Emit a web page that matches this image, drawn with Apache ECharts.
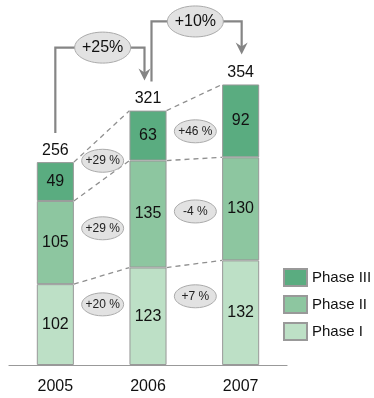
<!DOCTYPE html>
<html>
<head>
<meta charset="utf-8">
<script src="https://cdn.jsdelivr.net/npm/echarts@6/dist/echarts.min.js"></script>
<style>html,body{margin:0;padding:0;background:#fff}#c{width:374px;height:398px}</style>
</head>
<body>
<div id="c"></div>
<script>
const categories = ['2005', '2006', '2007'];
const phase1 = [102, 123, 132];
const phase2 = [105, 135, 130];
const phase3 = [49, 63, 92];
const totals = [256, 321, 354];
const growthPhase1 = ['+20 %', '+7 %'];
const growthPhase2 = ['+29 %', '-4 %'];
const growthPhase3 = ['+29 %', '+46 %'];
const growthTotal = ['+25%', '+10%'];

const FONT = 'Liberation Sans, Arial, sans-serif';
const BAR_RATIO = 0.4;
const colors = { p1: '#bde0c6', p2: '#8dc6a0', p3: '#5aac80' };

function renderItem(params, api) {
  const i = params.dataIndex;
  const n = categories.length;
  const bw = api.size([1, 0])[0] * BAR_RATIO;
  const children = [];
  const top = api.coord([i, totals[i]]);
  children.push({
    type: 'text', z2: 10,
    style: { text: String(totals[i]), x: top[0], y: top[1] - 4, align: 'center', verticalAlign: 'bottom', font: '16px ' + FONT, fill: '#111' }
  });
  if (i < n - 1) {
    const stacks = [phase1, phase2, phase3];
    const labels = [growthPhase1, growthPhase2, growthPhase3];
    const fracs = [0.68, 0.5, 0.45];
    const cA = api.coord([i, 0])[0], cB = api.coord([i + 1, 0])[0];
    const xa = cA + bw / 2, xb = cB - bw / 2;
    const xm = (xa + xb) / 2 + 1;
    let cumA = 0, cumB = 0;
    const ells = [];
    for (let s = 0; s < 3; s++) {
      const botA = cumA, botB = cumB;
      cumA += stacks[s][i]; cumB += stacks[s][i + 1];
      const ya = api.coord([i, cumA])[1], yb = api.coord([i + 1, cumB])[1];
      children.push({
        type: 'line', z2: 1,
        shape: { x1: xa, y1: ya, x2: xb, y2: yb },
        style: { stroke: '#8f8f8f', lineWidth: 1.3, lineDash: [5, 4] }
      });
      const botMean = (botA + botB) / 2, topMean = (cumA + cumB) / 2;
      const yv = botMean + fracs[s] * (topMean - botMean);
      const ey = api.coord([i, yv])[1];
      ells.push({
        type: 'ellipse', z2: 5,
        shape: { cx: xm, cy: ey, rx: 21, ry: 11.5 },
        style: { fill: '#e2e2e2', stroke: '#aaaaaa', lineWidth: 1 }
      });
      ells.push({
        type: 'text', z2: 6,
        style: { text: labels[s][i], x: xm, y: ey, align: 'center', verticalAlign: 'middle', font: '12px ' + FONT, fill: '#222' }
      });
    }
    children.push.apply(children, ells);
    const topA = api.coord([i, totals[i]])[1], topB = api.coord([i + 1, totals[i + 1]])[1];
    const sx = cA + (i > 0 ? 3.5 : 0);
    const ex = cB + (i + 1 < n - 1 ? -3.5 : 1);
    const sy = topA - 29;
    const yh = topB - 63;
    const tip = topB - 30;
    children.push({
      type: 'polyline', z2: 3,
      shape: { points: [[sx, sy], [sx, yh], [ex, yh], [ex, tip - 7]] },
      style: { stroke: '#858585', lineWidth: 2.2, fill: null }
    });
    children.push({
      type: 'polygon', z2: 3,
      shape: { points: [[ex, tip], [ex - 6, tip - 12], [ex, tip - 8], [ex + 6, tip - 12]] },
      style: { fill: '#858585' }
    });
    const gx = (cA + cB) / 2 + 1;
    children.push({
      type: 'ellipse', z2: 5,
      shape: { cx: gx, cy: yh, rx: 28, ry: 15.5 },
      style: { fill: '#e2e2e2', stroke: '#aaaaaa', lineWidth: 1 }
    });
    children.push({
      type: 'text', z2: 6,
      style: { text: growthTotal[i], x: gx, y: yh, align: 'center', verticalAlign: 'middle', font: '16px ' + FONT, fill: '#111' }
    });
  }
  return { type: 'group', children: children };
}

const barBase = {
  type: 'bar', stack: 'total', barWidth: '40%',
  label: { show: true, position: 'inside', fontSize: 16, fontFamily: FONT, color: '#111' },
  emphasis: { disabled: true }
};

const chart = echarts.init(document.getElementById('c'), null, { renderer: 'canvas' });
chart.setOption({
  animation: false,
  textStyle: { fontFamily: FONT },
  grid: { left: 9, right: 87, top: 48, bottom: 33 },
  legend: {
    data: ['Phase III', 'Phase II', 'Phase I'],
    orient: 'vertical', left: 283, top: 268, padding: 0,
    itemWidth: 23, itemHeight: 17, itemGap: 8,
    icon: 'rect',
    textStyle: { fontSize: 15, fontFamily: FONT, color: '#111', overflow: 'none', width: 100 },
    selectedMode: false
  },
  xAxis: {
    type: 'category', data: categories,
    axisLine: { lineStyle: { color: '#999', width: 1.2 } },
    axisTick: { length: 5, lineStyle: { color: '#999' } },
    axisLabel: { fontSize: 16, fontFamily: FONT, color: '#111', margin: 14 }
  },
  yAxis: { type: 'value', min: 0, max: 400, show: false, splitLine: { show: false } },
  series: [
    Object.assign({}, barBase, { name: 'Phase I', data: phase1, itemStyle: { color: colors.p1, borderColor: '#999', borderWidth: 1 } }),
    Object.assign({}, barBase, { name: 'Phase II', data: phase2, itemStyle: { color: colors.p2, borderColor: '#999', borderWidth: 1 } }),
    Object.assign({}, barBase, { name: 'Phase III', data: phase3, itemStyle: { color: colors.p3, borderColor: '#999', borderWidth: 1 } }),
    {
      type: 'custom', name: 'overlay', renderItem: renderItem, clip: false, z: 5,
      data: categories.map(function (c, i) { return [i, totals[i]]; }),
      encode: { x: 0, y: 1 }, silent: true
    }
  ]
});
</script>
</body>
</html>
